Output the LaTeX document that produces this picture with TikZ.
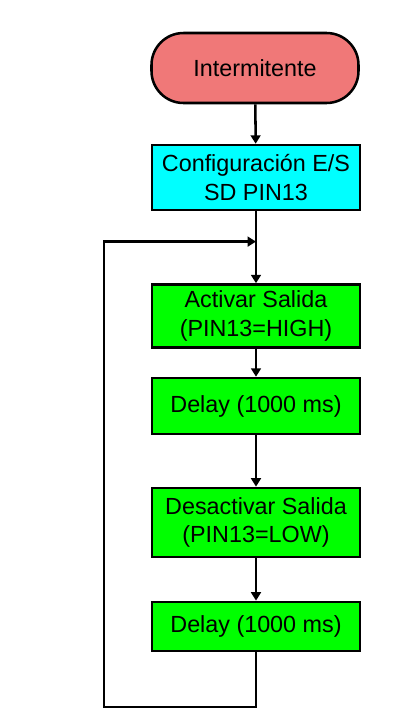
\documentclass[tikz,border=0pt]{standalone}
\usepackage{fontspec}
\setmainfont{Liberation Sans}
\usepackage{tikz}
\usetikzlibrary{arrows.meta}
\usepackage{xcolor}
\definecolor{start-red}{RGB}{240,120,120}
\definecolor{config-cyan}{RGB}{0,255,255}
\definecolor{step-green}{RGB}{0,255,0}
\tikzstyle{box}=[draw, line width=1.8pt, minimum width=5.2cm, align=center, inner sep=0pt, font=\fontsize{16.6}{20}\selectfont]
\tikzstyle{terminal}=[box, rounded corners=0.8cm, fill=start-red, minimum width=5.175cm, minimum height=1.75cm]
\tikzstyle{ioblock}=[box, fill=config-cyan]
\tikzstyle{stepblock}=[box, fill=step-green]
\tikzstyle{flow}=[line width=1.8pt, -{Triangle[length=6pt,width=7pt]}]

\begin{document}
\begin{tikzpicture}
	\useasboundingbox (0,0) rectangle (10,-18.175);
	\node[terminal] (start) at (6.375,-1.7) {Intermitente};
	\node[ioblock, minimum height=1.625cm] (config) at (6.4,-4.4375) {Configuración E/S\\SD PIN13};
	\coordinate (join) at (6.4,-6.04);
	\node[stepblock, minimum height=1.575cm] (on) at (6.4,-7.9) {Activar Salida\\(PIN13=HIGH)};
	\node[stepblock, minimum height=1.4cm] (wait1) at (6.4,-10.15) {Delay (1000 ms)};
	\node[stepblock, minimum height=1.725cm] (off) at (6.4,-13.06) {Desactivar Salida\\(PIN13=LOW)};
	\node[stepblock, minimum height=1.225cm] (wait2) at (6.4,-15.66) {Delay (1000 ms)};
	\coordinate (loop) at (2.6,-17.675);
	\draw[flow] (start) -- (config);
	\draw[flow] (config) -- (on);
	\draw[flow] (on) -- (wait1);
	\draw[flow] (wait1) -- (off);
	\draw[flow] (off) -- (wait2);
	\draw[flow] (wait2) -- (wait2 |- loop) -- (loop) |- (join);
\end{tikzpicture}
\end{document}
